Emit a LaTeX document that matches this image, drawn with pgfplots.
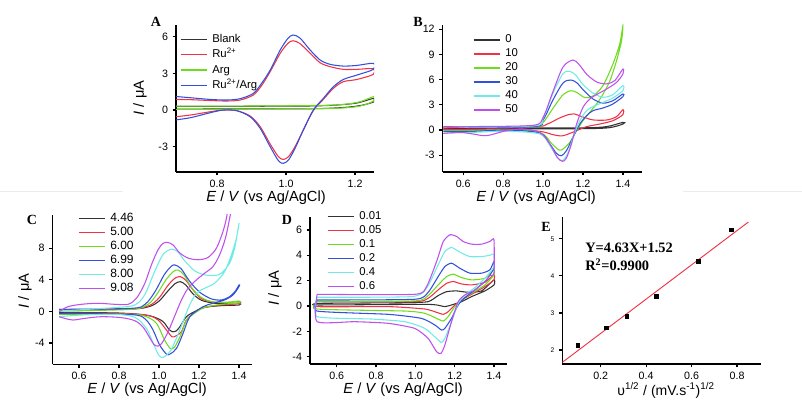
\documentclass[border=0pt]{standalone}
\usepackage{fontspec}
\setmainfont{Liberation Sans}
\newfontfamily\tnr{Liberation Serif}
\usepackage{pgfplots}
\pgfplotsset{compat=1.18}

\definecolor{cvblack}{RGB}{50,50,50}
\definecolor{cvred}{RGB}{240,50,70}
\definecolor{cvgreen}{RGB}{110,220,30}
\definecolor{cvblue}{RGB}{50,80,220}
\definecolor{cvcyan}{RGB}{110,235,230}
\definecolor{cvpurple}{RGB}{190,80,235}

\pgfplotsset{
  legend image code/.code={\draw[#1, line width=0.9pt] (0pt,0pt) -- (19.5pt,0pt); \path[draw=none] (0pt,0pt) -- (22.8pt,0pt);},
  cv/.style={scale only axis, anchor=south west,
    axis lines*=left, axis line style={-, line width=1.1pt},
    tick align=outside, major tick length=2.5pt, tick style={line width=0.9pt, black},
    ticklabel style={font=\fontsize{8}{9}\selectfont},
    /pgf/number format/assume math mode=true,
    xticklabel style={/pgf/number format/fixed, /pgf/number format/fixed zerofill, /pgf/number format/precision=1},
    yticklabel style={/pgf/number format/fixed, /pgf/number format/precision=0},
    legend cell align=left,
    legend style={draw=none, fill=none, inner sep=0pt, outer sep=0pt, anchor=north west,
      nodes={inner sep=1pt, text height=6.5pt, text depth=2pt},
      font=\fontsize{8.5}{9}\selectfont},
    every axis plot/.append style={line width=0.8pt, smooth, tension=0.5}},
}

\begin{document}
\begin{tikzpicture}
\path[use as bounding box] (0pt,0pt) rectangle (601.5pt,300pt);

% ---------------- A ----------------
\begin{axis}[cv, at={(132pt,171pt)}, width=148.5pt, height=110.25pt,
  xmin=0.681, xmax=1.255, ymin=-5.07, ymax=6.96,
  xtick={0.8,1.0,1.2}, ytick={-3,0,3,6},
  legend style={at={(0.02,0.95)}, row sep=1pt}]
\addplot[cvblack] coordinates {(0.664,0.30) (0.9,0.31) (1.1,0.35) (1.2,0.55) (1.253,0.95)
 (1.253,0.65) (1.2,0.30) (1.1,0.12) (0.9,0.09) (0.664,0.08)};
\addlegendentry{Blank}
\addplot[cvred] coordinates {(0.664,0.87) (0.722,0.85) (0.78,0.78) (0.828,0.74) (0.867,0.82)
 (0.905,1.23) (0.929,2.0) (0.954,3.14) (0.983,4.64) (1.005,5.45) (1.02,5.67) (1.04,5.45)
 (1.07,4.64) (1.099,3.87) (1.128,3.55) (1.166,3.33) (1.205,3.33) (1.253,3.38)
 (1.253,2.92) (1.205,2.5) (1.166,2.32) (1.137,1.77) (1.108,0.87) (1.079,-0.05) (1.05,-1.64)
 (1.026,-3.0) (1.007,-3.82) (0.992,-4.04) (0.978,-3.82) (0.954,-2.78) (0.925,-1.36)
 (0.896,-0.49) (0.857,-0.05) (0.818,0) (0.78,-0.14) (0.722,-0.41) (0.664,-0.6)};
\addlegendentry{Ru\textsuperscript{2+}}
\addplot[cvgreen] coordinates {(0.664,0.32) (0.9,0.33) (1.1,0.38) (1.166,0.46) (1.215,0.68) (1.253,1.09)
 (1.253,0.74) (1.215,0.33) (1.14,0.14) (0.9,0.07) (0.664,0.05)};
\addlegendentry{Arg}
\addplot[cvblue] coordinates {(0.664,1.15) (0.722,1.01) (0.78,0.87) (0.828,0.82) (0.867,0.93)
 (0.905,1.36) (0.929,2.18) (0.954,3.27) (0.983,4.91) (1.005,5.85) (1.02,6.14) (1.04,5.9)
 (1.07,4.91) (1.099,4.09) (1.128,3.74) (1.166,3.6) (1.205,3.65) (1.253,3.82)
 (1.253,3.33) (1.205,2.86) (1.166,2.5) (1.137,1.9) (1.108,0.95) (1.079,0) (1.05,-1.64)
 (1.026,-3.14) (1.007,-4.09) (0.992,-4.36) (0.978,-4.15) (0.954,-3.0) (0.925,-1.5)
 (0.896,-0.55) (0.857,-0.05) (0.818,0) (0.78,-0.22) (0.722,-0.63) (0.664,-0.87)};
\addlegendentry{Ru\textsuperscript{2+}/Arg}
\end{axis}

% ---------------- B ----------------
\begin{axis}[cv, at={(332pt,171pt)}, width=149.25pt, height=110.25pt,
  xmin=0.497, xmax=1.494, ymin=-5.0, ymax=12.5,
  xtick={0.6,0.8,1.0,1.2,1.4}, ytick={-3,0,3,6,9,12},
  legend style={at={(0.152,0.946)}}]
\addplot[cvblack] coordinates {(0.5,0.24) (0.9,0.24) (1.2,0.26) (1.318,0.4) (1.4,0.91)
 (1.4,0.71) (1.318,0.24) (1.1,0.14) (0.5,0.12)};
\addlegendentry{0}
\addplot[cvred] coordinates {(0.5,0.4) (0.95,0.4) (1.02,0.7) (1.08,1.4) (1.13,1.85) (1.155,1.92)
 (1.2,1.55) (1.25,1.2) (1.318,1.19) (1.368,1.59) (1.4,2.42)
 (1.4,1.83) (1.35,1.11) (1.284,0.71) (1.218,0.4) (1.168,-0.08) (1.117,-0.56) (1.09,-0.71)
 (1.05,-0.56) (0.984,-0.16) (0.817,0.12) (0.5,0.04)};
\addlegendentry{10}
\addplot[cvgreen] coordinates {(0.5,0.32) (0.95,0.4) (1.0,0.9) (1.05,2.6) (1.1,4.2) (1.14,4.68)
 (1.17,4.45) (1.21,3.85) (1.25,4.05) (1.3,5.28) (1.35,7.86) (1.384,10.24) (1.4,12.42)
 (1.393,10.6) (1.368,8.25) (1.335,5.87) (1.301,4.29) (1.268,3.1) (1.234,2.1) (1.2,1.11)
 (1.168,-0.08) (1.134,-1.47) (1.1,-2.26) (1.08,-2.38) (1.045,-1.67) (0.984,-0.28)
 (0.817,0) (0.65,-0.08) (0.5,-0.08)};
\addlegendentry{20}
\addplot[cvblue] coordinates {(0.5,0.32) (0.95,0.4) (1.0,1.2) (1.05,3.6) (1.1,5.6) (1.14,5.95)
 (1.17,5.6) (1.2,4.8) (1.25,3.7) (1.3,3.2) (1.35,3.49) (1.4,4.29)
 (1.4,3.97) (1.35,3.1) (1.3,2.62) (1.25,2.3) (1.218,1.71) (1.184,0.71) (1.15,-0.87)
 (1.117,-2.46) (1.092,-3.06) (1.067,-2.78) (1.034,-1.67) (0.984,-0.36) (0.817,0)
 (0.65,-0.16) (0.5,-0.16)};
\addlegendentry{30}
\addplot[cvcyan] coordinates {(0.5,0.32) (0.95,0.48) (1.0,1.4) (1.05,4.4) (1.1,6.7) (1.135,6.97)
 (1.165,6.5) (1.2,5.4) (1.25,4.4) (1.3,3.9) (1.35,4.21) (1.4,5.28)
 (1.4,4.68) (1.35,3.81) (1.3,3.29) (1.25,2.78) (1.218,2.3) (1.184,1.11) (1.15,-0.87)
 (1.126,-2.66) (1.097,-3.65) (1.071,-3.25) (1.034,-1.87) (0.984,-0.48) (0.817,-0.16)
 (0.65,-0.28) (0.5,-0.4)};
\addlegendentry{40}
\addplot[cvpurple] coordinates {(0.5,0.24) (0.65,0.4) (0.95,0.56) (1.0,1.5) (1.05,4.6) (1.1,7.5)
 (1.15,8.33) (1.18,7.8) (1.22,6.6) (1.27,5.7) (1.32,5.5) (1.36,5.9) (1.4,7.26)
 (1.4,6.67) (1.368,5.67) (1.318,4.88) (1.268,4.21) (1.234,3.69) (1.2,2.7) (1.168,0.71)
 (1.142,-1.67) (1.117,-3.33) (1.097,-3.73) (1.071,-3.25) (1.034,-1.67) (0.984,-0.28)
 (0.9,0.12) (0.817,-0.08) (0.717,-0.67) (0.65,-0.48) (0.583,-0.28) (0.5,-0.4)};
\addlegendentry{50}
\end{axis}

% ---------------- C ----------------
\begin{axis}[cv, at={(39.5pt,26.8pt)}, width=149.25pt, height=112pt,
  xmin=0.468, xmax=1.463, ymin=-6.7, ymax=12.2,
  xtick={0.6,0.8,1.0,1.2,1.4}, ytick={-4,0,4,8},
  legend style={at={(0.127,1.025)}, font=\fontsize{9}{10}\selectfont}]
\addplot[cvblack] coordinates {(0.5,0.17) (0.86,0.3) (0.95,0.59) (1.0,1.3) (1.045,2.6) (1.08,3.5)
 (1.107,3.75) (1.135,3.3) (1.17,2.2) (1.212,1.4) (1.278,1.02) (1.345,0.97) (1.4,1.02)
 (1.4,0.8) (1.312,0.72) (1.228,0.5) (1.18,0.0) (1.137,-0.68) (1.104,-1.95) (1.085,-2.5)
 (1.07,-2.6) (1.05,-2.3) (1.02,-1.3) (0.97,-0.68) (0.903,-0.38) (0.778,-0.2) (0.5,-0.13)};
\addlegendentry{4.46}
\addplot[cvred] coordinates {(0.5,0.25) (0.86,0.3) (0.95,0.72) (1.0,1.7) (1.045,3.3) (1.08,4.2)
 (1.107,4.39) (1.135,3.9) (1.17,2.7) (1.212,1.6) (1.278,1.14) (1.345,1.14) (1.4,1.23)
 (1.4,0.97) (1.312,0.8) (1.228,0.5) (1.18,-0.1) (1.137,-1.1) (1.112,-2.58) (1.085,-3.1)
 (1.065,-3.22) (1.037,-2.37) (0.995,-1.1) (0.936,-0.47) (0.778,-0.25) (0.5,-0.25)};
\addlegendentry{5.00}
\addplot[cvgreen] coordinates {(0.5,0.04) (0.86,0.25) (0.945,0.89) (0.99,2.2) (1.035,4.0) (1.07,5.0)
 (1.095,5.23) (1.125,4.6) (1.16,3.1) (1.205,1.86) (1.262,1.23) (1.345,1.14) (1.4,1.31)
 (1.4,1.06) (1.312,0.89) (1.228,0.5) (1.18,-0.2) (1.137,-1.1) (1.112,-2.79) (1.079,-4.48)
 (1.057,-4.7) (1.028,-3.64) (0.987,-1.52) (0.936,-0.68) (0.86,-0.38) (0.5,-0.38)};
\addlegendentry{6.00}
\addplot[cvblue] coordinates {(0.5,0.25) (0.86,0.38) (0.93,0.89) (0.98,2.5) (1.025,4.6) (1.06,5.68)
 (1.079,5.87) (1.11,5.4) (1.153,3.8) (1.203,2.42) (1.262,1.57) (1.312,1.44) (1.353,1.86)
 (1.382,2.58) (1.4,3.35)
 (1.4,3.14) (1.37,2.08) (1.328,1.44) (1.27,1.02) (1.22,0.59) (1.154,-0.68) (1.12,-2.79)
 (1.087,-4.7) (1.054,-5.41) (1.037,-5.41) (1.003,-4.27) (0.97,-2.37) (0.936,-1.1)
 (0.886,-0.47) (0.695,-0.3) (0.5,-0.3)};
\addlegendentry{6.99}
\addplot[cvcyan] coordinates {(0.5,0.04) (0.778,0.47) (0.878,0.8) (0.928,2.08) (0.978,5.04)
 (1.02,7.2) (1.062,7.86) (1.095,7.5) (1.128,6.4) (1.178,5.13) (1.228,4.62) (1.278,4.53)
 (1.312,4.83) (1.353,6.1) (1.378,8.0) (1.4,11.19)
 (1.387,9.28) (1.362,7.16) (1.328,5.04) (1.278,3.56) (1.228,2.92) (1.187,2.29) (1.153,0.8)
 (1.12,-1.3) (1.09,-3.2) (1.06,-4.9) (1.03,-5.7) (1.012,-5.83) (0.995,-5.4) (0.97,-4.0)
 (0.94,-2.3) (0.9,-1.1) (0.86,-0.6) (0.778,-0.38) (0.612,-0.47) (0.5,-0.68)};
\addlegendentry{8.00}
\addplot[cvpurple] coordinates {(0.5,-0.04) (0.545,0.59) (0.612,0.89) (0.695,1.02) (0.778,0.89)
 (0.845,0.89) (0.887,1.65) (0.928,3.5) (0.962,5.9) (0.995,7.8) (1.02,8.6) (1.042,8.73)
 (1.07,8.4) (1.103,7.4) (1.145,6.74) (1.195,6.53) (1.245,6.82) (1.287,8.0) (1.32,10.13)
 (1.337,11.8) (1.345,13) (1.36,13) (1.353,11.8) (1.332,9.28) (1.303,7.16) (1.27,5.68)
 (1.228,4.83) (1.187,3.98) (1.145,2.92) (1.112,1.44) (1.078,-0.6) (1.045,-2.6) (1.015,-4.0)
 (0.995,-4.4) (0.975,-4.2) (0.95,-3.2) (0.92,-2.0) (0.88,-1.2) (0.812,-0.8) (0.712,-0.68)
 (0.628,-0.89) (0.57,-1.1) (0.528,-0.89) (0.5,-0.68)};
\addlegendentry{9.08}
\end{axis}

% ---------------- D ----------------
\begin{axis}[cv, at={(232.5pt,27pt)}, width=148pt, height=110.5pt,
  xmin=0.464, xmax=1.468, ymin=-4.58, ymax=7.05,
  xtick={0.6,0.8,1.0,1.2,1.4}, ytick={-4,-2,0,2,4,6},
  legend style={at={(0.086,1.048)}}, every axis plot/.append style={tension=0.35}]
\addplot[cvblack] coordinates {(0.5,0.21) (0.947,0.26) (1.065,0.34) (1.116,0.82) (1.159,1.13)
 (1.21,1.19) (1.269,1.08) (1.337,1.19) (1.4,2.06)
 (1.4,1.66) (1.354,1.19) (1.286,0.74) (1.235,0.34) (1.184,0.08) (1.15,-0.05) (1.108,0.08)
 (1.031,0.13) (0.5,0.08) (0.5,0.21)};
\addlegendentry{0.01}
\addplot[cvred] coordinates {(0.5,0.34) (0.997,0.34) (1.065,0.61) (1.116,1.27) (1.159,1.79)
 (1.193,1.93) (1.235,1.74) (1.286,1.66) (1.354,1.87) (1.4,2.45)
 (1.4,2.06) (1.354,1.53) (1.286,0.92) (1.235,0.47) (1.201,0.08) (1.167,-0.45) (1.142,-0.66)
 (1.108,-0.5) (1.048,-0.24) (0.862,-0.05) (0.5,-0.05) (0.5,0.34)};
\addlegendentry{0.05}
\addplot[cvgreen] coordinates {(0.5,0.34) (0.997,0.4) (1.065,0.82) (1.116,1.66) (1.159,2.32)
 (1.193,2.51) (1.235,2.24) (1.286,2.06) (1.354,2.19) (1.4,2.85)
 (1.4,2.45) (1.354,1.66) (1.286,1.0) (1.235,0.47) (1.201,-0.05) (1.167,-0.84) (1.142,-1.19)
 (1.108,-0.98) (1.048,-0.58) (0.947,-0.4) (0.5,-0.24) (0.5,0.34)};
\addlegendentry{0.1}
\addplot[cvblue] coordinates {(0.5,0.47) (0.997,0.53) (1.065,1.08) (1.116,2.32) (1.15,3.11)
 (1.184,3.38) (1.226,2.98) (1.277,2.59) (1.337,2.59) (1.379,2.85) (1.4,3.51)
 (1.4,2.98) (1.362,2.06) (1.303,1.27) (1.252,0.66) (1.218,0.08) (1.184,-0.98) (1.15,-1.77)
 (1.133,-1.9) (1.099,-1.5) (1.031,-0.98) (0.862,-0.66) (0.5,-0.4) (0.5,0.47)};
\addlegendentry{0.2}
\addplot[cvcyan] coordinates {(0.5,0.69) (0.98,0.74) (1.057,1.4) (1.116,3.25) (1.15,4.3)
 (1.184,4.62) (1.226,4.25) (1.277,3.9) (1.337,3.9) (1.379,4.0) (1.4,4.1)
 (1.4,3.11) (1.362,2.32) (1.303,1.45) (1.252,0.87) (1.218,0.21) (1.184,-1.24) (1.15,-2.56)
 (1.133,-2.88) (1.108,-2.56) (1.048,-1.77) (0.947,-1.24) (0.777,-1.03) (0.5,-0.84) (0.5,0.69)};
\addlegendentry{0.4}
\addplot[cvpurple] coordinates {(0.5,0.92) (0.997,0.92) (1.057,1.53) (1.108,3.51) (1.142,5.09)
 (1.176,5.62) (1.21,5.49) (1.243,5.09) (1.286,4.88) (1.337,4.88) (1.379,5.09) (1.4,5.22)
 (1.4,2.6) (1.38,2.4) (1.354,1.93) (1.303,1.27) (1.252,0.87) (1.218,0.34) (1.184,-1.24)
 (1.15,-3.09) (1.13,-3.75) (1.108,-3.61) (1.065,-2.56) (0.997,-1.77) (0.862,-1.37)
 (0.692,-1.24) (0.5,-1.24) (0.5,0.92)};
\addlegendentry{0.6}
\end{axis}

% ---------------- E ----------------
\begin{axis}[cv, at={(421.7pt,27pt)}, width=148.8pt, height=110.5pt,
  xmin=0.031, xmax=0.904, ymin=1.62, ymax=5.6,
  xtick={0.2,0.4,0.6,0.8}, ytick={2,3,4,5},
  yticklabel style={/tikz/font=\fontsize{5}{6}\selectfont}]
\addplot[cvred, line width=0.7pt] coordinates {(0.031,1.664) (0.85,5.456)};
\addplot[only marks, mark=square*, mark size=1.4pt, black] coordinates {
 (0.100,2.13) (0.224,2.59) (0.316,2.90) (0.447,3.44) (0.632,4.39) (0.775,5.24)};
\end{axis}

% ---------------- labels ----------------
\begin{scope}[font=\tnr\bfseries\fontsize{10.5}{11}\selectfont]
\node at (117pt,283.5pt) {A};
\node at (313.5pt,283.5pt) {B};
\node at (24pt,135pt) {C};
\node at (215.25pt,135pt) {D};
\node at (409.5pt,129.75pt) {E};
\end{scope}
\begin{scope}[font=\fontsize{11}{12}\selectfont]
\node[rotate=90] at (105pt,226.5pt) {\textit{I} / μA};
\node[rotate=90] at (18.75pt,81.75pt) {\textit{I} / μA};
\node[rotate=90] at (206.25pt,84pt) {\textit{I} / μA};
\node at (199.5pt,152pt) {\textit{E} / \textit{V} (vs Ag/AgCl)};
\node at (402pt,152pt) {\textit{E} / \textit{V} (vs Ag/AgCl)};
\node at (110.25pt,7.5pt) {\textit{E} / \textit{V} (vs Ag/AgCl)};
\node at (302.25pt,7.5pt) {\textit{E} / \textit{V} (vs Ag/AgCl)};
\end{scope}
\node[font=\fontsize{10.5}{11}\selectfont, anchor=base, inner sep=0pt] at (499.5pt,3.75pt)
  {υ\textsuperscript{1/2} / (mV.s\textsuperscript{-1})\textsuperscript{1/2}};
\begin{scope}[font=\tnr\bfseries\fontsize{10.8}{12}\selectfont]
\node[anchor=west, inner sep=0pt] at (438.75pt,114pt) {Y=4.63X+1.52};
\node[anchor=west, inner sep=0pt] at (438.75pt,101.25pt) {R\textsuperscript{2}=0.9900};
\end{scope}
\draw[gray!15, line width=0.6pt] (0pt,156.75pt) -- (92pt,156.75pt);
\draw[gray!15, line width=0.6pt] (512.25pt,156.75pt) -- (601.5pt,156.75pt);
\end{tikzpicture}
\end{document}
